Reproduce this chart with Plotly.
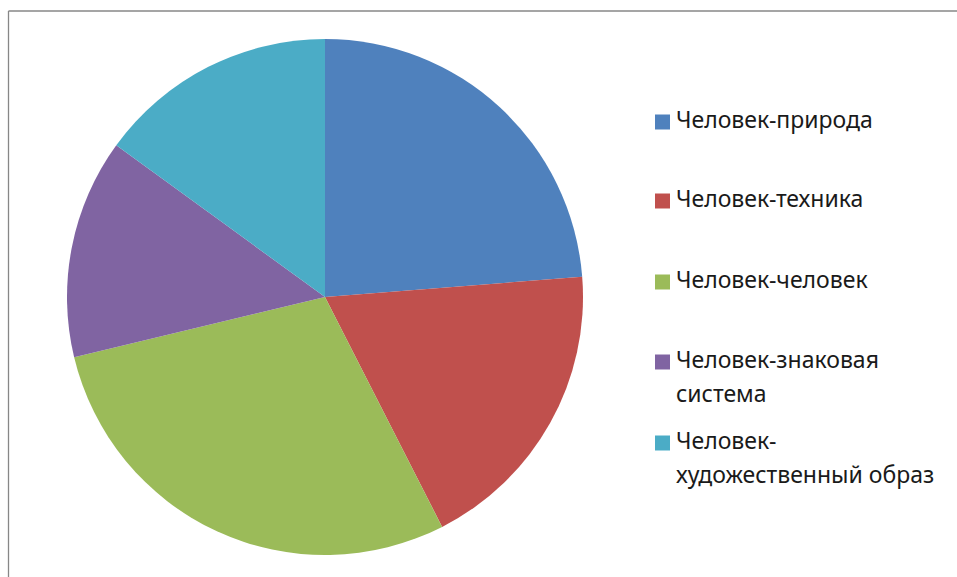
import plotly.graph_objects as go

W, H = 957, 577

categories = [
    "Человек-природа",
    "Человек-техника",
    "Человек-человек",
    "Человек-знаковая<br>система",
    "Человек-<br>художественный образ",
]
values = [19, 15, 23, 11, 12]
colors = ["#4F81BD", "#C0504D", "#9BBB59", "#8064A2", "#4BACC6"]


def px(x):
    """page pixel x -> paper fraction"""
    return x / W


def py(y):
    """page pixel y -> paper fraction"""
    return 1 - y / H


fig = go.Figure()

fig.add_trace(go.Pie(
    labels=[c.replace("<br>", " ") for c in categories],
    values=values,
    sort=False,
    direction="clockwise",
    rotation=0,
    marker=dict(colors=colors, line=dict(width=0)),
    textinfo="none",
    hoverinfo="label+value",
    showlegend=False,
    domain=dict(x=[px(67), px(583)], y=[py(555), py(39)]),
))

shapes = []
annotations = []

# chart frame: only left and top edges are visible in the view
frame = dict(color="#878787", width=1.3)
shapes.append(dict(type="line", xref="paper", yref="paper",
                   x0=px(8.5), x1=px(8.5), y0=0, y1=py(11), line=frame))
shapes.append(dict(type="line", xref="paper", yref="paper",
                   x0=px(8.5), x1=1, y0=py(11), y1=py(11), line=frame))

legend_y = [122, 201, 282, 362, 443]
line_gap = 34
font = dict(family="Noto Sans", size=23, color="#1a1a1a")
for cat, col, yc in zip(categories, colors, legend_y):
    shapes.append(dict(type="rect", xref="paper", yref="paper",
                       x0=px(655), x1=px(670), y0=py(yc + 7.5), y1=py(yc - 7.5),
                       line=dict(width=0), fillcolor=col))
    for i, line in enumerate(cat.split("<br>")):
        annotations.append(dict(xref="paper", yref="paper", x=px(674), y=py(yc - 3 + i * line_gap),
                                text=line, showarrow=False, xanchor="left", yanchor="middle",
                                font=font))

fig.update_layout(
    width=W, height=H,
    margin=dict(l=0, r=0, t=0, b=0),
    paper_bgcolor="white",
    plot_bgcolor="white",
    shapes=shapes,
    annotations=annotations,
)

fig.write_html(
    "out.html",
    config={"displayModeBar": False},
    post_script="document.body.style.margin='0';document.body.style.overflow='hidden';",
)
